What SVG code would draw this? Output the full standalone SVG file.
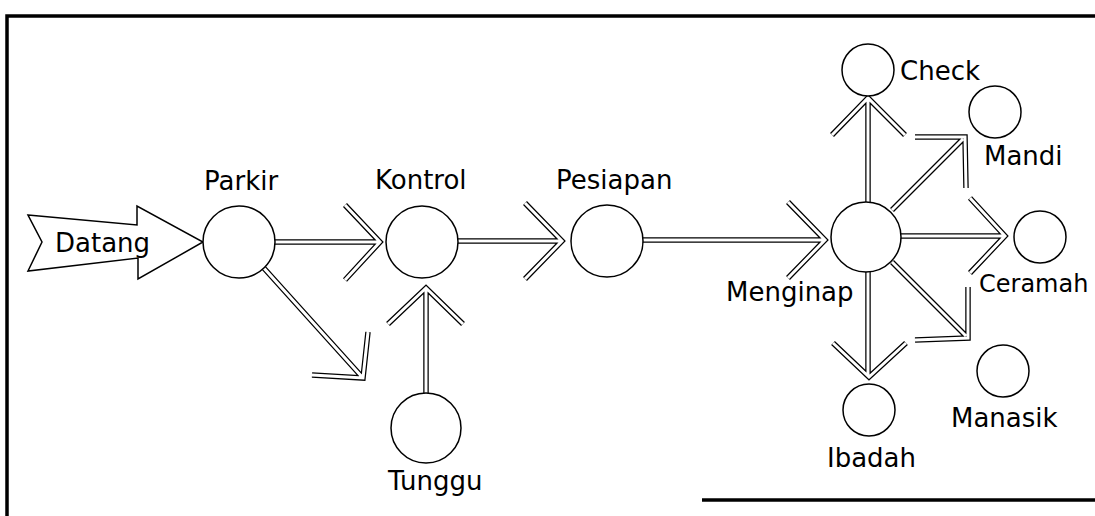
<svg xmlns="http://www.w3.org/2000/svg" xmlns:xlink="http://www.w3.org/1999/xlink" width="1095" height="516" viewBox="0 0 1095 516">
<style>
.o{fill:none;stroke:#000;stroke-width:5.5;stroke-linejoin:miter;stroke-miterlimit:10;stroke-linecap:butt}
.i{fill:none;stroke:#fff;stroke-width:3;stroke-linejoin:miter;stroke-miterlimit:10;stroke-linecap:butt}
.n{fill:#fff;stroke:#000;stroke-width:1.5}
.t{font-family:"DejaVu Sans","Liberation Sans",sans-serif;font-size:26px;fill:#000}
.b{fill:none;stroke:#000;stroke-width:3.5}
</style>
<defs>
<path id="c1" d="M272,242 L379,242 M345,205 L380,242 L345,280"/>
<path id="c2" d="M262,266 L363,378 M368,332 L363,378 L312,375"/>
<path id="c3" d="M426,393 L426,290 M388,324 L426,288 L463,324"/>
<path id="c4" d="M457,241 L560,241 M525,203 L562,241 L525,279"/>
<path id="c5" d="M642,240 L823,240 M788,202 L825,240 L788,278"/>
<path id="c6" d="M868,202 L868,100 M832,135 L868,98 L905,135"/>
<path id="c7" d="M892,210 L963,139 M915,137 L965,137 L966,188"/>
<path id="c8" d="M900,236 L1003,236 M970,198 L1005,236 L970,273"/>
<path id="c9" d="M868,272 L868,375 M833,343 L869,377 L906,343"/>
<path id="c10" d="M892,262 L966,336 M968,287 L968,338 L915,340"/>
</defs>
<g id="border">
<path class="b" d="M7,516 L7,16 L1095,16"/>
<path class="b" d="M702,500 L1095,500"/>
</g>
<g id="connectors">
<use xlink:href="#c1" class="o"/><use xlink:href="#c1" class="i"/>
<use xlink:href="#c2" class="o"/><use xlink:href="#c2" class="i"/>
<use xlink:href="#c3" class="o"/><use xlink:href="#c3" class="i"/>
<use xlink:href="#c4" class="o"/><use xlink:href="#c4" class="i"/>
<use xlink:href="#c5" class="o"/><use xlink:href="#c5" class="i"/>
<use xlink:href="#c6" class="o"/><use xlink:href="#c6" class="i"/>
<use xlink:href="#c7" class="o"/><use xlink:href="#c7" class="i"/>
<use xlink:href="#c8" class="o"/><use xlink:href="#c8" class="i"/>
<use xlink:href="#c9" class="o"/><use xlink:href="#c9" class="i"/>
<use xlink:href="#c10" class="o"/><use xlink:href="#c10" class="i"/>
</g>
<g id="datang">
<polygon class="n" points="28,215 137,225 137,206 203,242 138,279 138,258 28,271 42,242"/>
<text class="t" x="55" y="252">Datang</text>
</g>
<g id="parkir">
<circle class="n" cx="239" cy="242" r="36"/>
<text class="t" x="204" y="190">Parkir</text>
</g>
<g id="kontrol">
<circle class="n" cx="422" cy="242" r="36"/>
<text class="t" x="375" y="189">Kontrol</text>
</g>
<g id="pesiapan">
<circle class="n" cx="607" cy="241" r="36"/>
<text class="t" x="556" y="189">Pesiapan</text>
</g>
<g id="tunggu">
<circle class="n" cx="426" cy="428" r="35"/>
<text class="t" x="388" y="490">Tunggu</text>
</g>
<g id="menginap">
<circle class="n" cx="866" cy="237" r="35"/>
<text class="t" x="726" y="301">Menginap</text>
</g>
<g id="check">
<circle class="n" cx="868" cy="70" r="26"/>
<text class="t" x="900" y="80">Check</text>
</g>
<g id="mandi">
<circle class="n" cx="995" cy="112" r="26"/>
<text class="t" x="984" y="165">Mandi</text>
</g>
<g id="ceramah">
<circle class="n" cx="1040" cy="237" r="26"/>
<text class="t" x="979" y="292" style="font-size:24px">Ceramah</text>
</g>
<g id="ibadah">
<circle class="n" cx="869" cy="410" r="26"/>
<text class="t" x="827" y="467">Ibadah</text>
</g>
<g id="manasik">
<circle class="n" cx="1003" cy="371" r="26"/>
<text class="t" x="951" y="427">Manasik</text>
</g>
</svg>
